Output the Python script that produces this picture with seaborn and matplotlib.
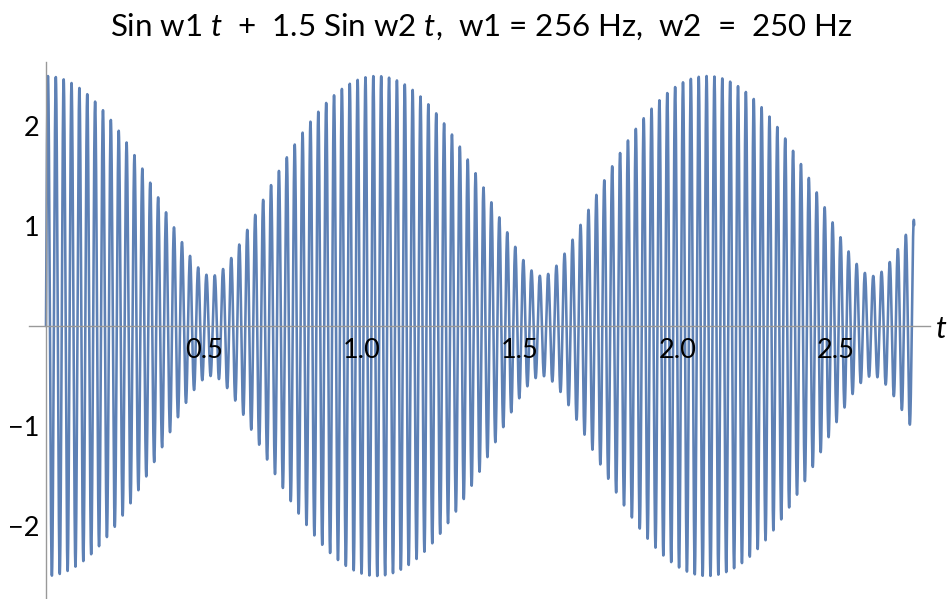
import numpy as np
import pandas as pd
import matplotlib
matplotlib.use("Agg")
import matplotlib.pyplot as plt
import seaborn as sns

# ---- data (function parameters read from the title / plot range) ----
w1 = 256.0          # angular frequency of first term
w2 = 250.0          # angular frequency of second term
amp1 = 1.0
amp2 = 1.5
t_start = 0.0
t_end = 2.75
n_samples = 24000

x_major = [0.5, 1.0, 1.5, 2.0, 2.5]
x_major_labels = ["0.5", "1.0", "1.5", "2.0", "2.5"]
y_major = [-2, -1, 1, 2]
y_major_labels = ["\u22122", "\u22121", "1", "2"]

t = np.linspace(t_start, t_end, n_samples)
y = amp1 * np.sin(w1 * t) + amp2 * np.sin(w2 * t)
df = pd.DataFrame({"t": t, "y": y})

sns.set_theme(style="white")
plt.rcParams["font.family"] = ["Lato", "DejaVu Sans"]
plt.rcParams["mathtext.fontset"] = "custom"
plt.rcParams["mathtext.it"] = "Lato:italic"
plt.rcParams["mathtext.rm"] = "Lato"

W, H = 949, 599
fig = plt.figure(figsize=(W / 100, H / 100), dpi=100)
# axes box in pixels: left 29, right 930, top 62, bottom 599
ax = fig.add_axes([29 / W, 0 / H, (930 - 29) / W, (599 - 62) / H])

sns.lineplot(data=df, x="t", y="y", ax=ax, color="#5E81B5", linewidth=1.85,
             estimator=None, sort=False)

ax.set_xlim(-0.0538, 2.797)
ax.set_ylim(-2.73, 2.64)
ax.set_axisbelow(False)

axis_col = "#999999"
for s in ["top", "right"]:
    ax.spines[s].set_visible(False)
ax.spines["left"].set_position(("data", 0))
ax.spines["bottom"].set_position(("data", 0))
for s in ["left", "bottom"]:
    ax.spines[s].set_color(axis_col)
    ax.spines[s].set_linewidth(1.0)
    ax.spines[s].set_zorder(3)

ax.set_xticks(x_major)
ax.set_xticklabels(x_major_labels)
ax.set_xticks(np.arange(1, 29) / 10.0, minor=True)
ax.set_yticks(y_major)
ax.set_yticklabels(y_major_labels)
ax.set_yticks(np.arange(-13, 14) / 5.0, minor=True)

ax.tick_params(axis="x", which="major", direction="in", length=2.4, width=0.8,
               color=axis_col, labelsize=19.5, pad=9, labelcolor="black")
ax.tick_params(axis="x", which="minor", direction="in", length=1.5, width=0.8,
               color=axis_col)
ax.tick_params(axis="y", which="major", direction="in", length=3.6, width=0.8,
               color=axis_col, labelsize=19.5, pad=5, labelcolor="black")
ax.tick_params(axis="y", which="minor", direction="in", length=2.0, width=0.8,
               color=axis_col)
ax.set_xlabel("")
ax.set_ylabel("")
ax.grid(False)

fig.text(481 / W, 1 - 27 / H,
         "Sin w1 $t$  +  1.5 Sin w2 $t$,  w1 = 256 Hz,  w2  =  250 Hz",
         ha="center", va="center", fontsize=22.5, color="black")
fig.text(935 / W, 1 - 329 / H, "$t$", ha="left", va="center", fontsize=22,
         color="black")

fig.savefig("out.png", dpi=100)
